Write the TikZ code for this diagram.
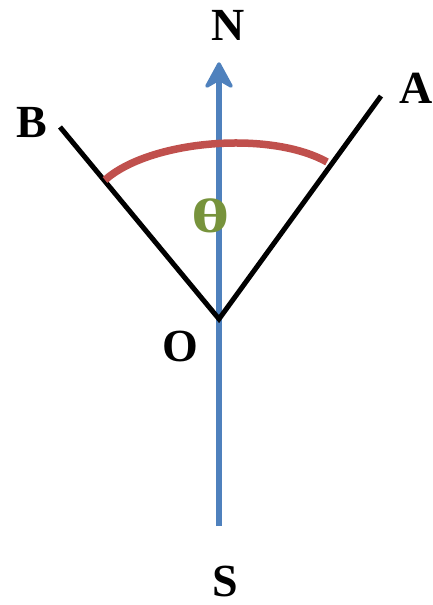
\documentclass[tikz,border=0pt]{standalone}
\usepackage{fontspec}
\setmainfont{Liberation Serif}
\definecolor{nblue}{HTML}{4F81BD}
\definecolor{nred}{HTML}{C0504D}
\definecolor{ngreen}{HTML}{77933C}
\tikzset{
  lbl/.style={font=\fontsize{46}{46}\selectfont\bfseries, inner sep=0pt, anchor=base},
  ray/.style={line width=5pt, black},
}
\begin{document}
\begin{tikzpicture}[x=1pt,y=-1pt]
\useasboundingbox (0,0) rectangle (433,605);
\coordinate (O) at (219,319);
\coordinate (A) at (381,96);
\coordinate (B) at (60,127);
\coordinate (Ntop) at (219,64);
\coordinate (Nnotch) at (219,79);
\coordinate (NL) at (207,86);
\coordinate (NR) at (231,86);
\coordinate (Sbot) at (219,526);
\coordinate (arcL) at (105,180);
\coordinate (arcR) at (327,162);
\draw[line width=5.5pt, nblue] (Sbot) -- (Nnotch);
\filldraw[nblue, line width=3.5pt, line join=round] (Ntop) -- (NR) -- (Nnotch) -- (NL) -- cycle;
\draw[ray, line join=miter] (A) -- (O) -- (B);
\draw[line width=7.5pt, nred] (arcL) .. controls (150,140) and (270,130) .. (arcR);
\node[lbl] (nN) at (228,40) {N};
\node[lbl] (nA) at (416,103) {A};
\node[lbl] (nB) at (32,137) {B};
\node[lbl] (nO) at (180,361) {O};
\node[lbl] (nS) at (225,596) {S};
\node[lbl, ngreen] (th) at (211,232) {\scalebox{1.6}[1.05]{θ}};
\end{tikzpicture}
\end{document}
